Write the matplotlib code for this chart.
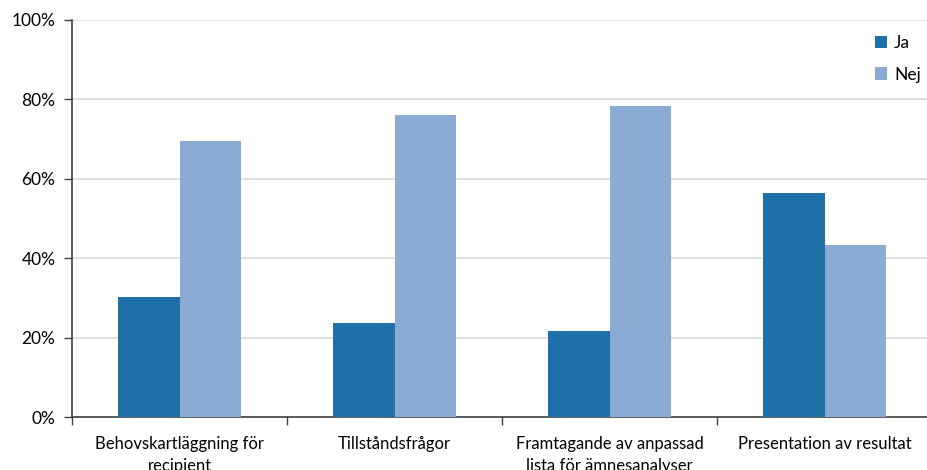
import matplotlib
matplotlib.use("Agg")
import matplotlib.pyplot as plt
import numpy as np
from matplotlib.ticker import FixedLocator

categories = ["Behovskartläggning för\nrecipient", "Tillståndsfrågor",
              "Framtagande av anpassad\nlista för ämnesanalyser", "Presentation av resultat"]
ja = [30.2, 23.7, 21.7, 56.4]
nej = [69.5, 76.1, 78.3, 43.3]
yticks = [0, 20, 40, 60, 80, 100]
ytick_labels = ["0%", "20%", "40%", "60%", "80%", "100%"]

plt.rcParams['font.family'] = ['Lato', 'DejaVu Sans']

fig = plt.figure(figsize=(9.27, 4.70), dpi=100)
ax = fig.add_axes([72/927, 53/470, 855/927, 397/470])

x = np.arange(len(categories))
w = 0.284
ax.bar(x - w/2, ja, width=w, color="#1F6FA8", label="Ja", zorder=3)
ax.bar(x + w/2, nej, width=w, color="#8AACD3", label="Nej", zorder=3)

ax.set_xlim(-0.5, 3.5 - 5/215)
ax.set_ylim(0, 100)
ax.set_yticks(yticks)
ax.set_yticklabels(ytick_labels, fontsize=12.5)
ax.yaxis.grid(True, color="#D9D9D9", linewidth=1.2, zorder=0)
ax.set_axisbelow(True)

ax.set_xticks(x)
ax.set_xticklabels(categories, fontsize=12, linespacing=1.45)
ax.tick_params(axis='x', which='major', length=0, pad=14)
ax.xaxis.set_minor_locator(FixedLocator([-0.5, 0.5, 1.5, 2.5]))
ax.tick_params(axis='x', which='minor', length=6, direction='out', color="#404040", width=1)
ax.tick_params(axis='y', length=6, direction='out', color="#404040", width=1, pad=6)

for s in ['top', 'right']:
    ax.spines[s].set_visible(False)
for s in ['left', 'bottom']:
    ax.spines[s].set_color("#404040")
    ax.spines[s].set_linewidth(1.2)

leg = ax.legend(loc='upper left', bbox_to_anchor=(868/927, 1 - 28/470), bbox_transform=fig.transFigure,
                frameon=False, fontsize=12.5, handlelength=0.7, handleheight=0.7,
                handletextpad=0.4, labelspacing=0.9, borderaxespad=0)

fig.savefig("out.png", dpi=100)
